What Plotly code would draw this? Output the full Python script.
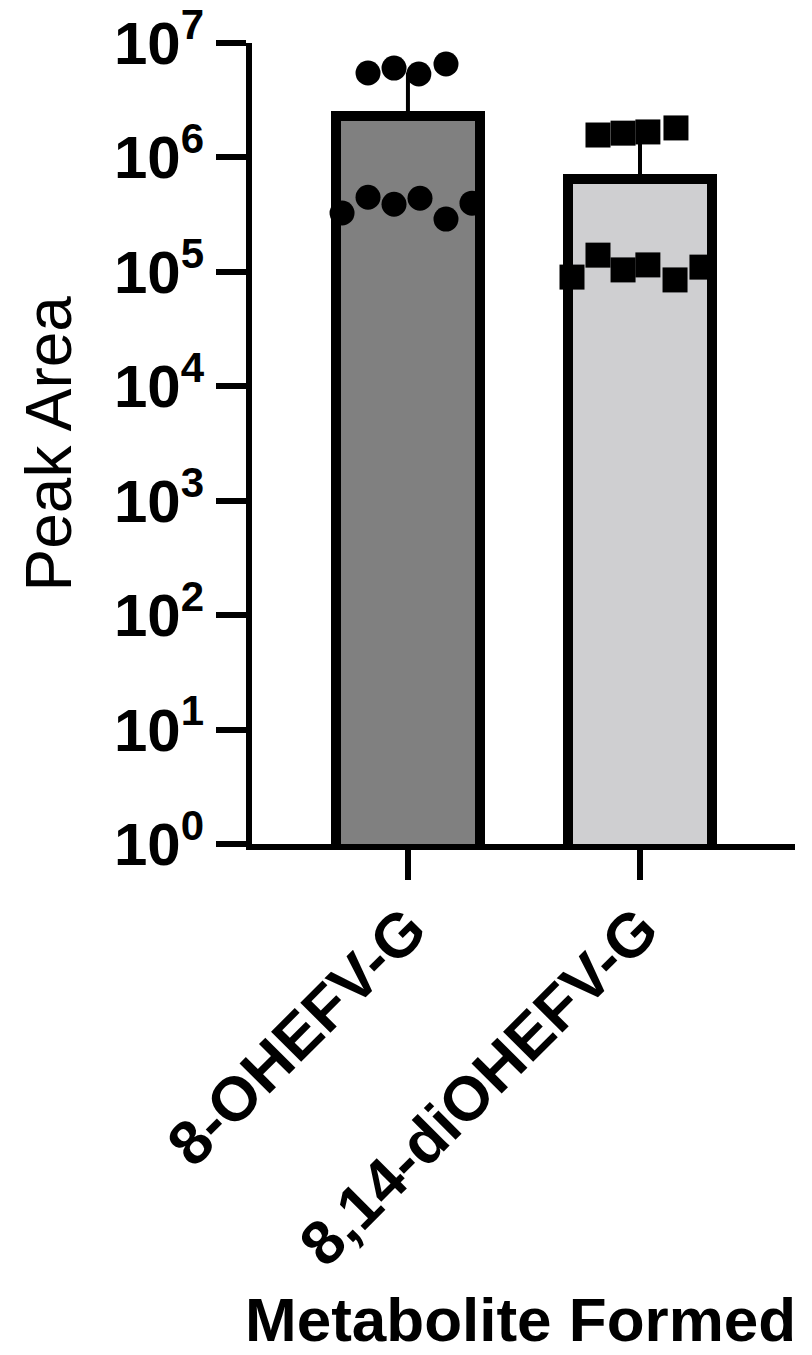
import plotly.graph_objects as go

# ---- data ----
categories = ["8-OHEFV-G", "8,14-diOHEFV-G"]
bar_means = [2.30e6, 6.47e5]
bar_err_plus = [3.2e6, 9.2e5]

# replicate points: values and horizontal jitter offsets
pts_8oh_vals = [5.47e6, 6.04e6, 5.36e6, 6.55e6,
                3.27e5, 4.49e5, 3.90e5, 4.40e5, 2.89e5, 3.98e5]
pts_8oh_jit = [-0.172, -0.060, 0.047, 0.164,
               -0.284, -0.172, -0.060, 0.052, 0.164, 0.276]
pts_di_vals = [1.57e6, 1.63e6, 1.67e6, 1.81e6,
               9.0e4, 1.40e5, 1.04e5, 1.15e5, 8.5e4, 1.10e5]
pts_di_jit = [-0.181, -0.073, 0.034, 0.155,
              -0.293, -0.181, -0.073, 0.034, 0.151, 0.267]

ytick_vals = [1, 10, 100, 1000, 1e4, 1e5, 1e6, 1e7]
ytick_text = ["<b>10<sup>%d</sup></b>" % i for i in range(8)]

bar_colors = ["#808080", "#cfcfd1"]
FONT = "Liberation Sans, Arial, sans-serif"

fig = go.Figure()
fig.add_trace(go.Bar(
    x=[0, 1], y=bar_means, width=0.62,
    marker=dict(color=bar_colors, line=dict(color="black", width=10)),
    error_y=dict(type="data", symmetric=False, array=bar_err_plus,
                 arrayminus=[0, 0], color="black", thickness=4, width=0),
    showlegend=False,
))
fig.add_trace(go.Scatter(
    x=[0 + j for j in pts_8oh_jit], y=pts_8oh_vals, mode="markers",
    marker=dict(symbol="circle", size=25, color="black"), showlegend=False,
))
fig.add_trace(go.Scatter(
    x=[1 + j for j in pts_di_jit], y=pts_di_vals, mode="markers",
    marker=dict(symbol="square", size=25, color="black"), showlegend=False,
))

fig.update_layout(
    width=812, height=1355,
    margin=dict(l=252, r=17, t=43, b=511, autoexpand=False),
    paper_bgcolor="white", plot_bgcolor="white",
    font=dict(family=FONT, color="black"),
    bargap=0,
)
fig.update_xaxes(
    range=[-0.672, 1.668], tickmode="array", tickvals=[0, 1],
    ticktext=["<b>%s</b>" % c for c in categories],
    tickangle=-45, tickfont=dict(size=62, family=FONT, color="black"),
    ticks="outside", ticklen=30, tickwidth=6, tickcolor="black",
    ticklabelstandoff=-12,
    showline=True, linecolor="black", linewidth=6,
    showgrid=False, zeroline=False, automargin=False,
)
fig.update_yaxes(
    type="log", range=[0, 7], tickmode="array", tickvals=ytick_vals,
    ticktext=ytick_text, tickfont=dict(size=60, family=FONT, color="black"),
    ticks="outside", ticklen=30, tickwidth=6, tickcolor="black",
    showline=True, linecolor="black", linewidth=6,
    showgrid=False, zeroline=False, automargin=False,
)
fig.add_annotation(
    text="Peak Area", xref="paper", yref="paper", x=-0.374, y=0.5,
    xanchor="center", yanchor="middle", textangle=-90, showarrow=False,
    font=dict(size=64, family=FONT, color="black"),
)
fig.add_annotation(
    text="<b>Metabolite Formed</b>", xref="paper", yref="paper", x=0.4936, y=-0.594,
    xanchor="center", yanchor="middle", showarrow=False, borderpad=0,
    font=dict(size=62, family=FONT, color="black"),
)

fig.write_html("out.html")
